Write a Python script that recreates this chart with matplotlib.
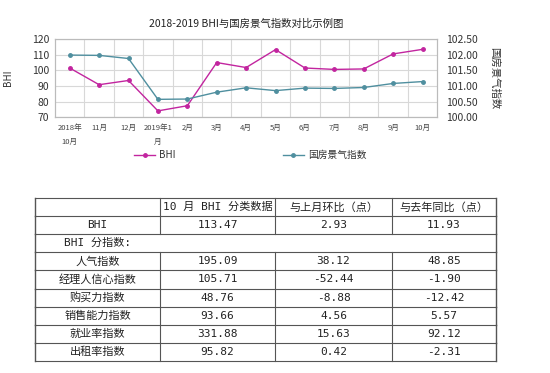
import matplotlib.pyplot as plt

plt.rcParams['font.family'] = ['Noto Sans CJK SC', 'DejaVu Sans']

# 折线图数据
meses = ['2018年\n10月', '11月', '12月', '2019年1\n月', '2月', '3月', '4月', '5月',
         '6月', '7月', '8月', '9月', '10月']
bhi = [101.5, 90.8, 93.5, 74.0, 77.3, 105.0, 101.8, 113.3, 101.5, 100.6, 100.9, 110.54, 113.47]
guofang = [101.99, 101.98, 101.88, 100.57, 100.58, 100.80, 100.94, 100.85, 100.93,
           100.92, 100.95, 101.08, 101.14]

# 表格数据
cabecalho = ['', '10 月 BHI 分类数据', '与上月环比（点）', '与去年同比（点）']
nomes = ['人气指数', '经理人信心指数', '购买力指数', '销售能力指数', '就业率指数', '出租率指数']
valor_out = ['195.09', '105.71', '48.76', '93.66', '331.88', '95.82']
huanbi = ['38.12', '-52.44', '-8.88', '4.56', '15.63', '0.42']
tongbi = ['48.85', '-1.90', '-12.42', '5.57', '92.12', '-2.31']
linha_bhi = ['BHI', '113.47', '2.93', '11.93']

cor_bhi = '#c2259f'
cor_gf = '#4f8f9f'

fig = plt.figure(figsize=(5.5, 3.73), dpi=100)
ax = fig.add_axes([0.1, 0.686, 0.695, 0.209])
ax2 = ax.twinx()

x = list(range(len(meses)))
ax.plot(x, bhi, color=cor_bhi, lw=1.0, marker='o', ms=2.5, label='BHI')
ax2.plot(x, guofang, color=cor_gf, lw=1.0, marker='o', ms=2.5, label='国房景气指数')

ax.set_xlim(-0.5, len(meses) - 0.5)
ax.set_ylim(70, 120)
ax.set_yticks(range(70, 121, 10))
ax2.set_ylim(100, 102.5)
ax2.set_yticks([100, 100.5, 101, 101.5, 102, 102.5])
ax2.set_yticklabels(['%.2f' % v for v in [100, 100.5, 101, 101.5, 102, 102.5]])

ax.set_xticks(x)
ax.set_xticklabels(meses, fontsize=5.5, color='#444444', linespacing=2.0, va='top')
ax.set_xticks([i + 0.5 for i in x[:-1]], minor=True)
ax.tick_params(axis='x', which='both', length=0, pad=5)
ax.tick_params(axis='y', length=0, labelsize=7.5, labelcolor='#333333', pad=4)
ax2.tick_params(axis='y', length=0, labelsize=7.5, labelcolor='#333333', pad=6)
ax.grid(axis='y', color='#d8d8d8', lw=0.8)
ax.grid(axis='x', which='minor', color='#d8d8d8', lw=0.8)
for s in list(ax.spines.values()) + list(ax2.spines.values()):
    s.set_color('#bbbbbb')
    s.set_linewidth(0.8)

ax.set_ylabel('BHI', fontsize=7, color='#333333', labelpad=14)
ax2.set_ylabel('国房景气指数', fontsize=7.5, color='#333333', rotation=270, labelpad=16)
ax.set_title('2018-2019 BHI与国房景气指数对比示例图', fontsize=7.5, color='#222222', pad=9)

h1, l1 = ax.get_legend_handles_labels()
h2, l2 = ax2.get_legend_handles_labels()
fig.legend(h1 + h2, l1 + l2, loc='center', bbox_to_anchor=(0.455, 0.584), ncol=2,
           frameon=False, fontsize=7, columnspacing=11, handlelength=2.2,
           handletextpad=0.4, labelcolor='#333333')

# 表格 (像素坐标)
tab = fig.add_axes([0, 0, 1, 1])
tab.set_xlim(0, 550)
tab.set_ylim(373, 0)
tab.axis('off')

colunas = [35, 160, 275, 392, 496]
topo, alt = 198, 18.1
linhas = [cabecalho, linha_bhi, ['BHI 分指数:', '', '', '']]
linhas += [[nomes[i], valor_out[i], huanbi[i], tongbi[i]] for i in range(len(nomes))]
n = len(linhas)
fonte_tab = ['DejaVu Sans Mono', 'Noto Sans CJK SC']
cor_linha = '#555555'

for r in range(n + 1):
    y = topo + r * alt
    tab.plot([colunas[0], colunas[-1]], [y, y], color=cor_linha, lw=0.8)
for c, xc in enumerate(colunas):
    for r in range(n):
        if r == 2 and 0 < c < len(colunas) - 1:
            continue
        tab.plot([xc, xc], [topo + r * alt, topo + (r + 1) * alt], color=cor_linha,
                 lw=1.0 if c in (0, len(colunas) - 1) else 0.8)

for r, linha in enumerate(linhas):
    yc = topo + (r + 0.5) * alt
    for c, txt in enumerate(linha):
        if not txt:
            continue
        xc = (colunas[c] + colunas[c + 1]) / 2
        tab.text(xc, yc, txt, ha='center', va='center', fontsize=8,
                 family=fonte_tab, color='#222222')

fig.savefig('out.png', dpi=100)
